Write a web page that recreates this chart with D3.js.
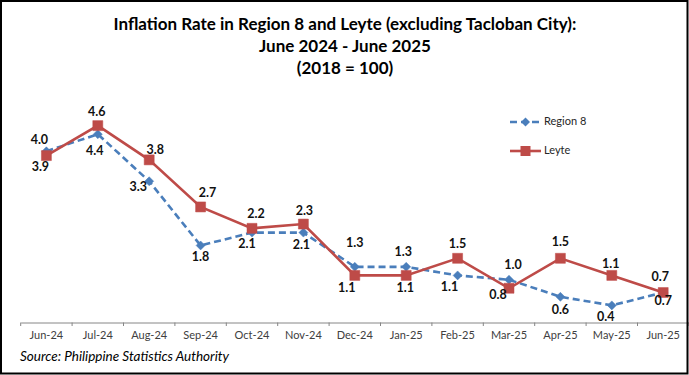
<!DOCTYPE html>
<html lang="en">
<head>
  <meta charset="UTF-8">
  <title>Inflation Rate in Region 8 and Leyte</title>
  <script src="https://d3js.org/d3.v7.min.js" charset="utf-8"></script>
  <style>
    body { margin: 0; background: #fff; }
    svg { display: block; }
  </style>
</head>
<body>
  <div id="wrapper"></div>
  <script>
    const months = ['Jun-24', 'Jul-24', 'Aug-24', 'Sep-24', 'Oct-24', 'Nov-24', 'Dec-24',
      'Jan-25', 'Feb-25', 'Mar-25', 'Apr-25', 'May-25', 'Jun-25']
    const region8 = [4.0, 4.4, 3.3, 1.8, 2.1, 2.1, 1.3, 1.3, 1.1, 1.0, 0.6, 0.4, 0.7]
    const leyte = [3.9, 4.6, 3.8, 2.7, 2.2, 2.3, 1.1, 1.1, 1.5, 0.8, 1.5, 1.1, 0.7]
    const titleLines = [
      'Inflation Rate in Region 8 and Leyte (excluding Tacloban City):',
      'June 2024 - June 2025',
      '(2018 = 100)'
    ]
    const sourceText = 'Source: Philippine Statistics Authority'

    // label nudges [dx, dy] as placed in the original chart
    const region8LabelPos = [[-7, -11], [-3, 18], [-11, 7], [0, 12], [-5, 12], [-2, 13], [0, -23],
      [-3, -14], [-8, 12], [4, -14], [0, 14], [-6, 12], [0, 9]]
    const leyteLabelPos = [[-6, 12], [-1, -13], [6, -9], [7, -13], [4, -14], [1, -12], [-8, 13],
      [-1, 13], [0, -14], [-11, 8], [0, -16], [-1, -11], [-3, -15]]

    const drawChart = () => {
      const dimensions = {
        width: 689,
        height: 375,
        axisLeft: 20.7,
        axisRight: 688.9,
        axisY: 322.5,
        yTop: 108.5,
      }

      const svg = d3.select('#wrapper')
        .append('svg')
          .attr('width', dimensions.width)
          .attr('height', dimensions.height)
          .style('font-family', 'Lato, "Open Sans", sans-serif')

      // scales
      const xScale = d3.scaleBand()
        .domain(months)
        .range([dimensions.axisLeft, dimensions.axisRight])
        .padding(0)
      const xCenter = d => xScale(d) + xScale.bandwidth() / 2

      const yScale = d3.scaleLinear()
        .domain([0, 5])
        .range([dimensions.axisY, dimensions.yTop])

      // title
      svg.append('g')
        .selectAll('text')
        .data(titleLines)
        .join('text')
          .attr('x', 345)
          .attr('y', (d, i) => 26 + i * 21.7)
          .attr('text-anchor', 'middle')
          .attr('dominant-baseline', 'middle')
          .attr('font-size', 17)
          .attr('font-weight', 'bold')
          .attr('fill', '#000')
          .text(d => d)

      // x axis
      const xAxis = svg.append('g')
        .attr('transform', `translate(0, ${dimensions.axisY})`)
        .call(d3.axisBottom(xScale).tickSize(0).tickPadding(9))
      xAxis.select('.domain').attr('stroke', '#868686').attr('stroke-width', 1)
      xAxis.selectAll('text')
        .attr('font-size', 11)
        .attr('font-family', 'Lato, "Open Sans", sans-serif')
        .attr('fill', '#404040')
      xAxis.selectAll('.tick-mark')
        .data(months.concat(['end']))
        .join('line')
          .attr('class', 'tick-mark')
          .attr('x1', (d, i) => dimensions.axisLeft + i * xScale.bandwidth())
          .attr('x2', (d, i) => dimensions.axisLeft + i * xScale.bandwidth())
          .attr('y1', 0)
          .attr('y2', 3.5)
          .attr('stroke', '#868686')

      const line = d3.line()
        .x((d, i) => xCenter(months[i]))
        .y(d => yScale(d))

      const series = [
        { name: 'Region 8', values: region8, color: '#4a7ebb', dash: '7,4', marker: 'diamond', labels: region8LabelPos },
        { name: 'Leyte', values: leyte, color: '#be4b48', dash: null, marker: 'square', labels: leyteLabelPos },
      ]

      const markerPath = (type, x, y) => {
        if (type === 'square') {
          const s = 5
          return `M${x - s},${y - s}h${2 * s}v${2 * s}h${-2 * s}Z`
        }
        const s = 4.5
        return `M${x},${y - s}L${x + s},${y}L${x},${y + s}L${x - s},${y}Z`
      }

      series.forEach(s => {
        svg.append('path')
          .attr('d', line(s.values))
          .attr('fill', 'none')
          .attr('stroke', s.color)
          .attr('stroke-width', 2.6)
          .attr('stroke-dasharray', s.dash)

        svg.append('g')
          .selectAll('path')
          .data(s.values)
          .join('path')
            .attr('d', (d, i) => markerPath(s.marker, xCenter(months[i]), yScale(d)))
            .attr('fill', s.color)
            .attr('stroke', s.color)
            .attr('stroke-width', 0.5)
      })

      // data labels
      series.forEach(s => {
        svg.append('g')
          .selectAll('text')
          .data(s.values)
          .join('text')
            .attr('x', (d, i) => xCenter(months[i]) + s.labels[i][0])
            .attr('y', (d, i) => yScale(d) + s.labels[i][1])
            .attr('text-anchor', 'middle')
            .attr('dominant-baseline', 'middle')
            .attr('font-size', 12.5)
            .attr('font-weight', 'bold')
            .attr('fill', '#111')
            .text(d => d.toFixed(1))
      })

      // legend
      const legend = svg.append('g')
      series.forEach((s, i) => {
        const ly = 122 + i * 29
        legend.append('line')
          .attr('x1', 510).attr('x2', 541)
          .attr('y1', ly).attr('y2', ly)
          .attr('stroke', s.color)
          .attr('stroke-width', 2.6)
          .attr('stroke-dasharray', s.dash)
        legend.append('path')
          .attr('d', markerPath(s.marker, 525.5, ly))
          .attr('fill', s.color)
        legend.append('text')
          .attr('x', 544)
          .attr('y', ly)
          .attr('dominant-baseline', 'middle')
          .attr('font-size', 11)
          .attr('fill', '#262626')
          .text(s.name)
      })

      // source
      svg.append('text')
        .attr('x', 20)
        .attr('y', 361)
        .attr('font-size', 13.5)
        .attr('font-style', 'italic')
        .attr('fill', '#000')
        .text(sourceText)

      // outer border
      svg.append('rect')
        .attr('x', 1)
        .attr('y', 1)
        .attr('width', 686.5)
        .attr('height', 372.5)
        .attr('fill', 'none')
        .attr('stroke', '#000')
        .attr('stroke-width', 2)
    }

    drawChart()
  </script>
</body>
</html>
